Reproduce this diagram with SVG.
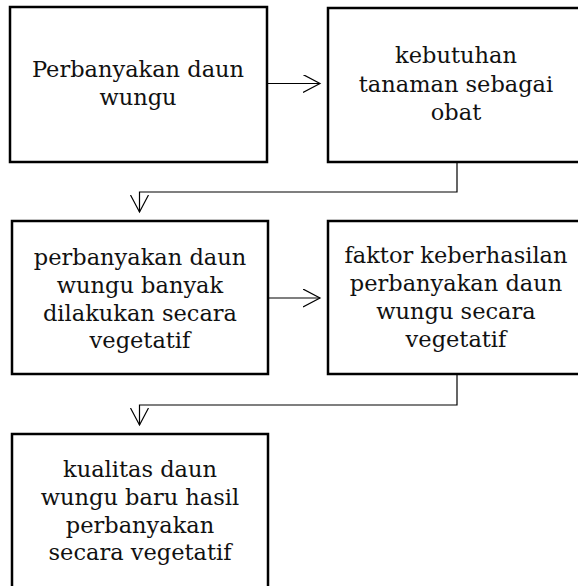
<svg xmlns="http://www.w3.org/2000/svg" width="578" height="586" viewBox="0 0 578 586">
<style>
.box{fill:#fff;stroke:#000;stroke-width:2.5}
.t{font-family:"DejaVu Serif","Liberation Serif",serif;font-size:22.5px;fill:#111;text-anchor:middle}
.c{fill:none;stroke:#000;stroke-width:1.2}
</style>
<defs>
<marker id="ah" markerWidth="20" markerHeight="20" refX="17" refY="9" orient="auto" markerUnits="userSpaceOnUse">
<path d="M0,0 L17,9 L0,18" fill="none" stroke="#000" stroke-width="1.2"/>
</marker>
</defs>
<rect width="578" height="586" fill="#fff"/>
<g id="n1"><rect class="box" x="10" y="7" width="257" height="155"/>
<text class="t" x="138" y="77">Perbanyakan daun</text><text class="t" x="138" y="105">wungu</text></g>
<g id="n2"><rect class="box" x="328" y="8" width="257" height="154"/>
<text class="t" x="456" y="63">kebutuhan</text><text class="t" x="456" y="92">tanaman sebagai</text><text class="t" x="456" y="120">obat</text></g>
<g id="n3"><rect class="box" x="12" y="221" width="256" height="153"/>
<text class="t" x="140" y="265">perbanyakan daun</text><text class="t" x="140" y="293">wungu banyak</text><text class="t" x="140" y="321">dilakukan secara</text><text class="t" x="140" y="348">vegetatif</text></g>
<g id="n4"><rect class="box" x="328" y="221" width="257" height="153"/>
<text class="t" x="456" y="263">faktor keberhasilan</text><text class="t" x="456" y="291">perbanyakan daun</text><text class="t" x="456" y="319">wungu secara</text><text class="t" x="456" y="347">vegetatif</text></g>
<g id="n5"><rect class="box" x="12" y="434" width="256" height="170"/>
<text class="t" x="140" y="477">kualitas daun</text><text class="t" x="140" y="505">wungu baru hasil</text><text class="t" x="140" y="533">perbanyakan</text><text class="t" x="140" y="560">secara vegetatif</text></g>
<g id="connectors">
<path class="c" d="M267,83.5 H320" marker-end="url(#ah)"/>
<path class="c" d="M268,298 H320" marker-end="url(#ah)"/>
<path class="c" d="M457,162 V192 H139.5 V212" marker-end="url(#ah)"/>
<path class="c" d="M457,374 V405 H139.5 V425" marker-end="url(#ah)"/>
</g>
</svg>
